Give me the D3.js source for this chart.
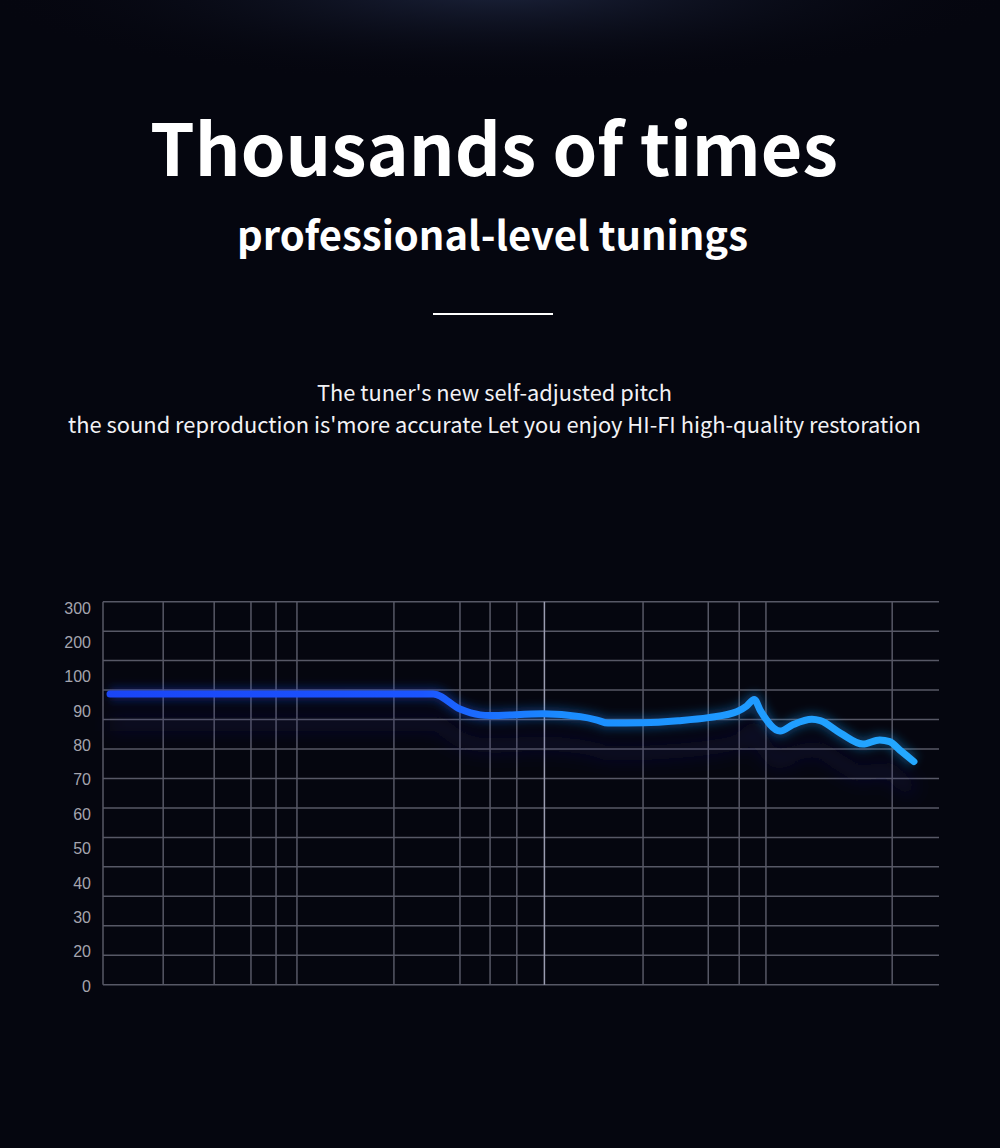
<!DOCTYPE html>
<html>
<head>
<meta charset="utf-8">
<script src="https://cdn.jsdelivr.net/npm/d3@7/dist/d3.min.js"></script>
<style>
  html, body { margin: 0; padding: 0; background: #05060f; }
  svg { display: block; }
</style>
</head>
<body>
<svg id="chart" width="1000" height="1148"></svg>
<script>
// ---- Data ----
const title = "Thousands of times";
const subtitle = "professional-level tunings";
const bodyLines = [
  "The tuner's new self-adjusted pitch",
  "the sound reproduction is'more accurate Let you enjoy HI-FI high-quality restoration"
];
// y-axis tick labels (non-uniform, evenly spaced on the axis)
const yTickLabels = [0, 20, 30, 40, 50, 60, 70, 80, 90, 100, 200, 300];
// vertical grid positions in x units (0..100 across the plot)
const xGridValues = [0, 7.2, 13.3, 17.7, 20.7, 23.2, 34.8, 42.7, 46.3, 49.5, 52.8, 64.6, 72.4, 76.1, 79.3, 94.4];
const xHighlight = 52.8;
const hGridCount = 14; // horizontal grid lines
// response curve
const curveX = [0.84, 39.5, 42.7, 45.1, 46.3, 52.6, 57.1, 59.1, 60.4, 64.6, 68.8, 72.4, 75.8, 77.0, 77.9, 78.6, 81.0, 82.5, 84.8, 85.8, 88.2, 90.9, 92.9, 94.1, 95.3, 97.0];
const curveY = [95.0, 95.0, 90.6, 88.9, 88.7, 89.2, 88.4, 87.4, 86.5, 86.6, 87.2, 88.1, 89.8, 91.5, 93.4, 90.3, 84.2, 86.0, 87.6, 87.2, 83.6, 80.4, 81.6, 81.1, 78.7, 75.3];

// ---- Layout ----
const W = 1000, H = 1148;
const plot = { left: 103, right: 939, top: 601.7, bottom: 984.7 };
const labelTop = 608, labelBottom = 986;

const svg = d3.select("#chart");
const defs = svg.append("defs");

// background
svg.append("rect").attr("width", W).attr("height", H).attr("fill", "#05060f");
const rg = defs.append("radialGradient").attr("id", "topGlow")
  .attr("gradientUnits", "userSpaceOnUse")
  .attr("cx", 500).attr("cy", -10).attr("r", 520)
  .attr("gradientTransform", "translate(500,-10) scale(1,0.18) translate(-500,10)");
rg.append("stop").attr("offset", "0%").attr("stop-color", "#1e2640").attr("stop-opacity", 0.9);
rg.append("stop").attr("offset", "100%").attr("stop-color", "#05060f").attr("stop-opacity", 0);
svg.append("rect").attr("width", W).attr("height", 160).attr("fill", "url(#topGlow)");

// ---- Text ----
const font = "'Noto Sans CJK SC', 'Noto Sans', sans-serif";
function fitText(sel, targetWidth) {
  const fs = parseFloat(sel.attr("font-size"));
  const w = sel.node().getComputedTextLength();
  sel.attr("font-size", (fs * targetWidth / w).toFixed(2));
}
const t1 = svg.append("text").attr("x", 494).attr("y", 176)
  .attr("text-anchor", "middle").attr("fill", "#ffffff")
  .attr("font-family", font).attr("font-weight", 700).attr("font-size", 80)
  .text(title);
fitText(t1, 688);
const t2 = svg.append("text").attr("x", 492.5).attr("y", 250)
  .attr("text-anchor", "middle").attr("fill", "#ffffff")
  .attr("font-family", font).attr("font-weight", 700).attr("font-size", 42)
  .text(subtitle);
fitText(t2, 511);
svg.append("rect").attr("x", 433).attr("y", 313).attr("width", 120).attr("height", 2).attr("fill", "#ffffff");

const bodyWidths = [355, 853];
const bodyX = [494.5, 494.5];
const bodyY = [401, 433];
bodyLines.forEach((s, i) => {
  const t = svg.append("text").attr("x", bodyX[i]).attr("y", bodyY[i])
    .attr("text-anchor", "middle").attr("fill", "#f2f2f5")
    .attr("font-family", font).attr("font-weight", 400).attr("font-size", 22)
    .text(s);
  fitText(t, bodyWidths[i]);
});

// ---- Scales ----
const x = d3.scaleLinear().domain([0, 100]).range([plot.left, plot.right]);
const step = (labelBottom - labelTop) / (yTickLabels.length - 1);
const y = d3.scaleLinear()
  .domain(yTickLabels)
  .range(yTickLabels.map((d, i) => labelBottom - i * step));
const gridY = d3.scaleLinear().domain([0, hGridCount - 1]).range([plot.bottom, plot.top]);

// ---- Grid ----
const grid = svg.append("g");
grid.selectAll("line.h").data(d3.range(hGridCount)).join("line")
  .attr("class", "h")
  .attr("x1", plot.left).attr("x2", plot.right)
  .attr("y1", d => gridY(d)).attr("y2", d => gridY(d))
  .attr("stroke", "#575866").attr("stroke-width", 1.5);
grid.selectAll("line.v").data(xGridValues).join("line")
  .attr("class", "v")
  .attr("x1", d => x(d)).attr("x2", d => x(d))
  .attr("y1", plot.top).attr("y2", plot.bottom)
  .attr("stroke", d => d === xHighlight ? "#9a9cb0" : "#575866")
  .attr("stroke-width", 1.5);

// ---- Y axis labels ----
const yAxis = d3.axisLeft(y).tickValues(yTickLabels).tickSize(0).tickPadding(0);
const ya = svg.append("g").attr("transform", "translate(91,0)").call(yAxis);
ya.select(".domain").remove();
ya.selectAll("text").attr("fill", "#a4a4ae").attr("font-size", 16)
  .attr("font-family", "'Liberation Sans', Arial, sans-serif");

// ---- Curve ----
const pts = curveX.map((d, i) => [d, curveY[i]]);
const line = d3.line().x(d => x(d[0])).y(d => y(d[1])).curve(d3.curveMonotoneX);

const lg = defs.append("linearGradient").attr("id", "lineGrad")
  .attr("gradientUnits", "userSpaceOnUse")
  .attr("x1", x(0)).attr("x2", x(100)).attr("y1", 0).attr("y2", 0);
lg.append("stop").attr("offset", "0%").attr("stop-color", "#1a45f7");
lg.append("stop").attr("offset", "38%").attr("stop-color", "#1b55ff");
lg.append("stop").attr("offset", "55%").attr("stop-color", "#1a8cff");
lg.append("stop").attr("offset", "100%").attr("stop-color", "#24aaff");

const blurBig = defs.append("filter").attr("id", "blurBig").attr("x", "-10%").attr("y", "-200%").attr("width", "120%").attr("height", "500%");
blurBig.append("feGaussianBlur").attr("stdDeviation", 9);
const blurSmall = defs.append("filter").attr("id", "blurSmall").attr("x", "-10%").attr("y", "-200%").attr("width", "120%").attr("height", "500%");
blurSmall.append("feGaussianBlur").attr("stdDeviation", 4);

// shadow beneath
svg.append("path").datum(pts).attr("d", line)
  .attr("transform", "translate(0,30)")
  .attr("fill", "none").attr("stroke", "#2a2a80").attr("stroke-width", 16)
  .attr("stroke-opacity", 0.22).attr("filter", "url(#blurBig)");
// glow
svg.append("path").datum(pts).attr("d", line)
  .attr("fill", "none").attr("stroke", "url(#lineGrad)").attr("stroke-width", 14)
  .attr("stroke-opacity", 0.3).attr("filter", "url(#blurSmall)");
// main line
svg.append("path").datum(pts).attr("d", line)
  .attr("fill", "none").attr("stroke", "url(#lineGrad)").attr("stroke-width", 7)
  .attr("stroke-linecap", "round").attr("stroke-linejoin", "round");
</script>
</body>
</html>
